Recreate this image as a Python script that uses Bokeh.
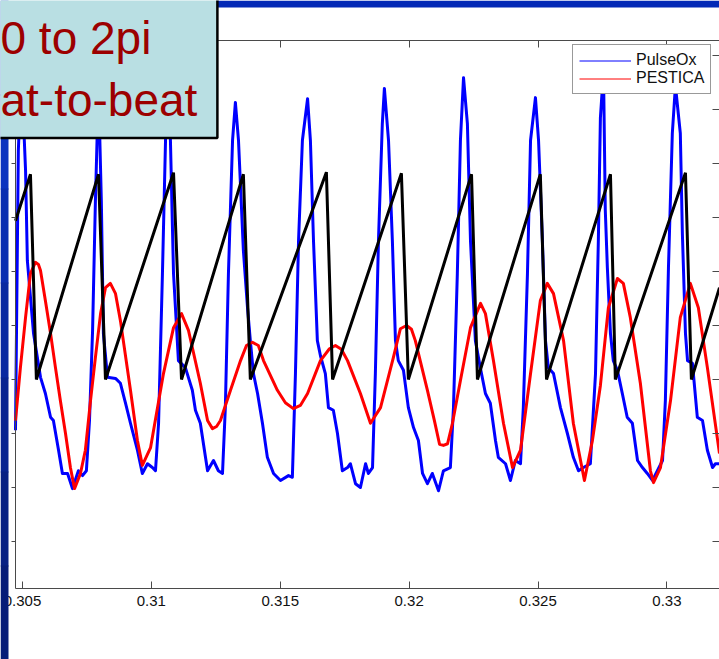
from bokeh.plotting import figure
from bokeh.models import (Range1d, LinearAxis, FixedTicker, Legend, LegendItem,
                          Label, BoxAnnotation)
from bokeh.embed import file_html
from bokeh.resources import INLINE

# ---------------- data ----------------
time_pulseox = [
    0.30473, 0.30484, 0.30496, 0.30512, 0.30519, 0.30543, 0.30570, 0.30589, 0.30609, 0.30620,
    0.30640, 0.30655, 0.30675, 0.30694, 0.30717, 0.30733, 0.30748, 0.30760, 0.30772, 0.30783,
    0.30795, 0.30806, 0.30814, 0.30830, 0.30861, 0.30880, 0.30900, 0.30919, 0.30946, 0.30965,
    0.30985, 0.31004, 0.31016, 0.31028, 0.31043, 0.31055, 0.31062, 0.31074, 0.31086, 0.31105,
    0.31132, 0.31159, 0.31171, 0.31190, 0.31210, 0.31218, 0.31241, 0.31260, 0.31276, 0.31287,
    0.31299, 0.31315, 0.31326, 0.31338, 0.31357, 0.31373, 0.31384, 0.31396, 0.31412, 0.31431,
    0.31450, 0.31474, 0.31501, 0.31532, 0.31547, 0.31559, 0.31571, 0.31586, 0.31606, 0.31617,
    0.31629, 0.31644, 0.31656, 0.31675, 0.31687, 0.31706, 0.31722, 0.31741, 0.31761, 0.31772,
    0.31792, 0.31811, 0.31831, 0.31842, 0.31858, 0.31869, 0.31881, 0.31896, 0.31904, 0.31920,
    0.31935, 0.31947, 0.31958, 0.31978, 0.31997, 0.32017, 0.32036, 0.32052, 0.32071, 0.32090,
    0.32114, 0.32133, 0.32160, 0.32172, 0.32187, 0.32199, 0.32211, 0.32226, 0.32238, 0.32257,
    0.32277, 0.32296, 0.32315, 0.32335, 0.32346, 0.32374, 0.32393, 0.32412, 0.32432, 0.32443,
    0.32459, 0.32471, 0.32490, 0.32502, 0.32517, 0.32529, 0.32540, 0.32560, 0.32587, 0.32614,
    0.32637, 0.32657, 0.32676, 0.32703, 0.32723, 0.32734, 0.32742, 0.32754, 0.32761, 0.32769,
    0.32781, 0.32792, 0.32808, 0.32827, 0.32846, 0.32866, 0.32886, 0.32905, 0.32924, 0.32944,
    0.32963, 0.32983, 0.32994, 0.33006, 0.33021, 0.33033, 0.33052, 0.33060, 0.33072, 0.33080,
    0.33099, 0.33118, 0.33138, 0.33157, 0.33177, 0.33188, 0.33204,
]
pulseox = [
    -0.94, 4.24, 5.72, 3.87, 2.20, 0.85, 0.04, -0.26, -0.70, -0.76,
    -1.31, -1.74, -1.74, -2.02, -1.69, -1.78, -1.69, -0.76, 0.91, 3.31,
    5.44, 3.31, 0.85, 0.04, 0.02, -0.07, -0.44, -0.81, -1.31, -1.74,
    -1.56, -1.63, -1.69, -0.81, 1.96, 4.43, 5.54, 4.43, 1.96, 0.35,
    0.22, -0.20, -0.57, -0.81, -1.44, -1.69, -1.50, -1.69, -1.74, -0.52,
    1.96, 4.43, 5.13, 4.43, 2.39, 1.33, 0.72, 0.11, -0.26, -0.81,
    -1.44, -1.74, -1.87, -1.78, -1.81, 0.11, 2.57, 4.43, 5.20, 4.43,
    2.57, 0.72, 0.44, 0.11, -0.52, -0.57, -1.00, -1.69, -1.63, -1.56,
    -1.93, -2.00, -1.56, -1.74, -1.63, 0.11, 2.57, 4.74, 5.39, 4.43,
    2.57, 0.72, 0.35, 0.17, -0.52, -0.89, -1.13, -1.74, -1.93, -1.74,
    -2.06, -1.69, -1.63, -0.52, 1.96, 4.43, 5.59, 4.74, 2.57, 0.72,
    0.20, -0.26, -0.44, -1.13, -1.44, -1.56, -1.87, -1.50, -1.56, -0.52,
    1.96, 4.43, 5.22, 4.43, 2.57, 0.72, 0.22, 0.11, -0.52, -1.00,
    -1.44, -1.69, -1.63, -1.56, 0.11, 2.57, 4.85, 5.72, 3.13, 2.07,
    0.85, 0.35, 0.17, -0.26, -0.70, -0.81, -1.50, -1.63, -1.74, -1.87,
    -1.69, -1.50, -0.39, 2.07, 4.56, 5.44, 4.56, 2.70, 0.85, 0.35,
    0.30, -0.70, -0.76, -1.31, -1.63, -1.56, -1.56,
]

time_pestica = [
    0.30473, 0.30492, 0.30512, 0.30531, 0.30550, 0.30562, 0.30570, 0.30589, 0.30609, 0.30628,
    0.30647, 0.30667, 0.30686, 0.30702, 0.30725, 0.30744, 0.30764, 0.30783, 0.30803, 0.30822,
    0.30841, 0.30861, 0.30880, 0.30919, 0.30946, 0.30965, 0.30997, 0.31047, 0.31086, 0.31117,
    0.31144, 0.31190, 0.31218, 0.31237, 0.31253, 0.31268, 0.31307, 0.31346, 0.31369, 0.31392,
    0.31415, 0.31435, 0.31489, 0.31520, 0.31551, 0.31578, 0.31606, 0.31656, 0.31691, 0.31714,
    0.31737, 0.31761, 0.31811, 0.31850, 0.31889, 0.31939, 0.31966, 0.31990, 0.32009, 0.32024,
    0.32071, 0.32098, 0.32118, 0.32133, 0.32149, 0.32168, 0.32199, 0.32238, 0.32277, 0.32296,
    0.32327, 0.32366, 0.32401, 0.32432, 0.32471, 0.32509, 0.32536, 0.32560, 0.32599, 0.32637,
    0.32680, 0.32711, 0.32742, 0.32773, 0.32808, 0.32831, 0.32858, 0.32897, 0.32936, 0.32948,
    0.32975, 0.33014, 0.33052, 0.33091, 0.33122, 0.33157, 0.33204,
]
pestica = [
    -0.76, 0.22, 1.15, 1.96, 2.17, 2.13, 2.02, 1.46, 0.85, 0.22,
    -0.39, -1.00, -1.63, -2.02, -1.74, -1.31, -0.39, 0.41, 1.22, 1.70,
    1.78, 1.59, 1.09, -0.20, -1.13, -1.59, -1.26, 0.11, 0.96, 1.22,
    0.91, -0.07, -0.76, -0.91, -0.87, -0.76, -0.20, 0.35, 0.63, 0.69,
    0.63, 0.35, -0.20, -0.43, -0.54, -0.48, -0.26, 0.35, 0.57, 0.63,
    0.56, 0.35, -0.26, -0.81, -0.52, 0.41, 0.94, 1.00, 0.93, 0.72,
    -0.20, -0.76, -1.20, -1.22, -1.19, -0.81, -0.02, 0.96, 1.41, 1.22,
    0.35, -0.81, -1.63, -1.31, 0.11, 1.46, 1.78, 1.59, 0.72, -0.81,
    -1.87, -1.13, -0.11, 1.33, 1.87, 1.78, 1.15, -0.07, -1.69, -1.91,
    -1.63, -0.39, 1.15, 1.78, 1.33, 0.22, -1.37,
]

time_phase = [
    0.30473, 0.30531, 0.30554, 0.30795, 0.30822, 0.31086, 0.31117, 0.31357, 0.31384, 0.31679,
    0.31703, 0.31970, 0.31997, 0.32242, 0.32265, 0.32509, 0.32533, 0.32781, 0.32800, 0.33072,
    0.33095, 0.33204,
]
cardiac_phase = [
    2.94, 3.80, 0.00, 3.80, 0.00, 3.83, 0.00, 3.80, 0.00, 3.84,
    0.00, 3.82, 0.00, 3.80, 0.00, 3.80, 0.00, 3.80, 0.00, 3.83,
    0.00, 1.70,
]

x_ticks = [0.305, 0.31, 0.315, 0.32, 0.325, 0.33]
x_tick_labels = ["0.305", "0.31", "0.315", "0.32", "0.325", "0.33"]
y_ticks = [-3, -2, -1, 0, 1, 2, 3, 4, 5, 6]
series_names = ["PulseOx", "PESTICA"]
note_text = "0 to 2pi\nat-to-beat"

# axes box (data limits of the MATLAB axes)
X_MIN, X_MAX = 0.30473, 0.33204
Y_MIN, Y_MAX = -3.870, 6.278

# ---------------- figure ----------------
FONT = "Liberation Sans"
AXIS_COLOR = "#4a4a4a"

# the frame covers the whole slide crop; the axes sit at fixed data locations
p = figure(width=719, height=659, output_backend="svg", toolbar_location=None,
           x_range=Range1d(0.304148, X_MAX), y_range=Range1d(-5.185, 7.0185),
           x_axis_location=None, y_axis_location=None,
           min_border_left=0, min_border_right=0, min_border_top=0,
           min_border_bottom=0, background_fill_color="white",
           border_fill_color="white", outline_line_color=None)
p.xgrid.visible = False
p.ygrid.visible = False

def no_label_axis(ticks, tick_in, tick_out, line_color, loc, bounds):
    return LinearAxis(ticker=FixedTicker(ticks=ticks), major_tick_in=tick_in,
                      major_tick_out=tick_out, minor_tick_line_color=None,
                      major_label_text_color=None, major_label_text_font_size="8px",
                      major_label_standoff=0, fixed_location=loc, bounds=bounds,
                      axis_line_color=line_color, major_tick_line_color=AXIS_COLOR,
                      major_tick_line_width=1)

x_bottom = LinearAxis(ticker=FixedTicker(ticks=x_ticks),
                      major_label_overrides=dict(zip(x_ticks, x_tick_labels)),
                      major_tick_in=7, major_tick_out=0, minor_tick_line_color=None,
                      major_label_standoff=8, major_label_text_font=FONT,
                      major_label_text_font_size="15px", major_label_text_color="#111111",
                      fixed_location=Y_MIN, bounds=(X_MIN, X_MAX),
                      axis_line_color=AXIS_COLOR, major_tick_line_color=AXIS_COLOR)
p.add_layout(x_bottom, "below")
p.add_layout(no_label_axis(x_ticks, 7, 0, AXIS_COLOR, Y_MAX, (X_MIN, X_MAX)), "above")
p.add_layout(no_label_axis(y_ticks, 0, 4, AXIS_COLOR, X_MIN, (Y_MIN, Y_MAX)), "left")
p.add_layout(no_label_axis(y_ticks, 7, 0, None, X_MAX, (Y_MIN, Y_MAX)), "right")

r_pulse = p.line(time_pulseox, pulseox, line_color="#0000ff", line_width=3,
                 line_join="round")
r_pest = p.line(time_pestica, pestica, line_color="#ff0000", line_width=3,
                line_join="round")
r_phase = p.line(time_phase, cardiac_phase, line_color="black", line_width=3)

# thin legend keys (a single NaN point, nothing drawn in the plot)
nan = float("nan")
k_pulse = p.line(x=[nan], y=[nan], line_color="#0000ff", line_width=1)
k_pest = p.line(x=[nan], y=[nan], line_color="#ff0000", line_width=1)

legend = Legend(items=[LegendItem(label=series_names[0], renderers=[k_pulse]),
                       LegendItem(label=series_names[1], renderers=[k_pest])],
                location=(572, 565), orientation="vertical",
                glyph_width=52, glyph_height=17, label_height=17,
                label_standoff=5, padding=6, spacing=0, margin=0,
                label_text_font=FONT, label_text_font_size="16px",
                label_text_color="#111111",
                border_line_color="#333333", border_line_width=1,
                background_fill_color="white", background_fill_alpha=1)
p.add_layout(legend)

# ---------------- slide decorations ----------------
def canvas_box(left, right, top, bottom, fill):
    return BoxAnnotation(left=left, right=right, top=top, bottom=bottom,
                         left_units="canvas", right_units="canvas",
                         top_units="canvas", bottom_units="canvas",
                         fill_color=fill, fill_alpha=1, line_color=None,
                         level="overlay")

bar_colors = ["#0c37cc", "#0b33bf", "#0a2eb0", "#0929a0", "#082490", "#072083", "#061c78"]
step = 659 / len(bar_colors)
for i, c in enumerate(bar_colors):
    p.add_layout(canvas_box(0, 8, round(i * step), round((i + 1) * step) + 1, c))
p.add_layout(canvas_box(217, 719, 0, 7, "#0329b6"))

# the slide's text box that covers the upper-left corner of the plot
note = Label(x=-5, y=-5, text=note_text, x_units="canvas", y_units="canvas",
             text_align="left", text_baseline="top", text_font=FONT,
             text_font_size="46px", text_color="#9c0000", text_line_height=1.2,
             background_fill_color="#b9dfe3", background_fill_alpha=1,
             border_line_color="black", border_line_width=2.5,
             padding=dict(left=5, right=20, top=16, bottom=12), level="overlay")
p.add_layout(note)

open("out.html", "w").write(file_html(p, INLINE))
